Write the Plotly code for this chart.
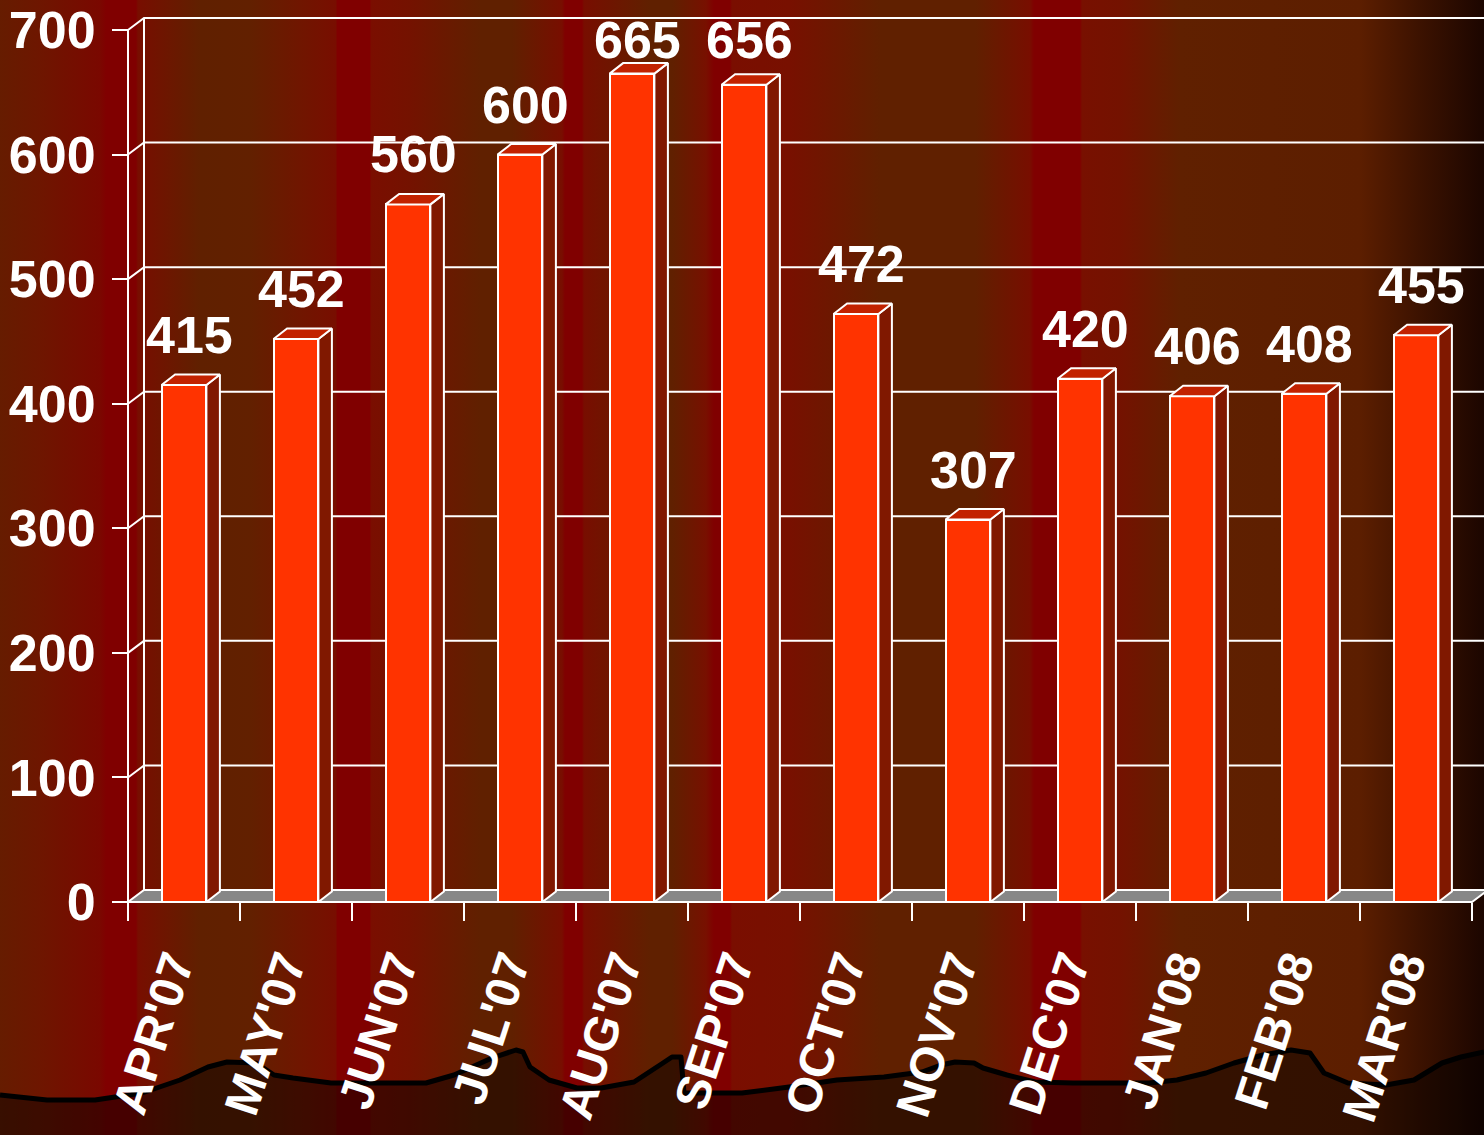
import base64
import plotly.graph_objects as go

# ---------------- data ----------------
months = ["APR'07", "MAY'07", "JUN'07", "JUL'07", "AUG'07", "SEP'07",
          "OCT'07", "NOV'07", "DEC'07", "JAN'08", "FEB'08", "MAR'08"]
values = [415, 452, 560, 600, 665, 656, 472, 307, 420, 406, 408, 455]
y_ticks = [0, 100, 200, 300, 400, 500, 600, 700]

# ---------------- geometry / style ----------------
FONT = "Liberation Sans, Arial, sans-serif"
W, H = 1484, 1135
ML, MR, MT, MB = 106, 0, 10, 225
PW, PH = W - ML - MR, H - MT - MB
PX_X = 112.0                      # px per category
Y0_PX, Y700_PX = 902.0, 30.0
PX_Y = (Y0_PX - Y700_PX) / 700.0  # px per unit
x_lo = -0.5 - (128 - ML) / PX_X
x_hi = -0.5 + (W - MR - 128) / PX_X
y_lo = -((MT + PH) - Y0_PX) / PX_Y
y_hi = (Y0_PX - MT) / PX_Y

wall_dx = 16 / PX_X
wall_dy = 12 / PX_Y
bar_w = 0.40
bar_dx = 13.5 / PX_X
bar_dy = 10.5 / PX_Y
LABEL_CAP = 652   # labels of taller bars are kept inside the chart top

FRONT = "#FF3300"
TOP = "#C22200"
SIDE = "#801800"
FLOOR = "#878787"

# ---------------- background (svg image) ----------------
stops = [(0, "#661c00"), (40, "#6e1600"), (100, "#7a0800"), (106, "#800000"), (136, "#800000"),
         (138, "#780e00"), (200, "#602000"), (250, "#622000"), (300, "#701600"), (336, "#780e00"),
         (337, "#800000"), (370, "#800000"), (371, "#7a0e00"), (410, "#741200"), (480, "#602000"),
         (512, "#602000"), (562, "#780e00"), (565, "#800000"), (582, "#800000"), (584, "#780e00"),
         (650, "#602000"), (672, "#602000"), (706, "#781000"), (714, "#800000"), (730, "#800000"),
         (732, "#7a0e00"), (790, "#781000"), (880, "#602000"), (975, "#602000"), (1030, "#780e00"),
         (1034, "#800000"), (1080, "#800000"), (1082, "#781000"), (1120, "#741200"), (1180, "#602000"),
         (1360, "#5c1e00"), (1420, "#3c1200"), (1484, "#1c0600")]
terrain = [(0, 1095), (47, 1100), (95, 1100), (142, 1093), (180, 1080), (208, 1067), (227, 1062),
           (256, 1063), (274, 1075), (293, 1078), (331, 1083), (426, 1083), (454, 1075), (492, 1058),
           (516, 1050), (523, 1052), (530, 1067), (549, 1080), (577, 1088), (601, 1088), (634, 1082),
           (663, 1063), (672, 1057), (681, 1057), (684, 1093), (742, 1093), (789, 1087), (837, 1080),
           (884, 1077), (922, 1072), (941, 1065), (955, 1062), (974, 1063), (983, 1068), (1007, 1075),
           (1035, 1082), (1073, 1083), (1149, 1083), (1177, 1080), (1206, 1073), (1234, 1063),
           (1263, 1055), (1291, 1050), (1310, 1053), (1324, 1073), (1348, 1083), (1386, 1085),
           (1414, 1080), (1442, 1063), (1461, 1057), (1484, 1052)]
stop_xml = "".join(f"<stop offset='{p / W:.5f}' stop-color='{c}'/>" for p, c in stops)
line_d = "M" + " L".join(f"{x},{y}" for x, y in terrain)
svg = (f"<svg xmlns='http://www.w3.org/2000/svg' width='{W}' height='{H}' viewBox='0 0 {W} {H}' "
       f"preserveAspectRatio='none'><defs><linearGradient id='g' x1='0' y1='0' x2='{W}' y2='0' "
       f"gradientUnits='userSpaceOnUse'>{stop_xml}</linearGradient></defs>"
       f"<rect width='{W}' height='{H}' fill='url(#g)'/>"
       f"<path d='{line_d} L{W + 10},{H + 10} L-10,{H + 10} Z' fill='black' fill-opacity='0.45'/>"
       f"<path d='{line_d}' fill='none' stroke='black' stroke-width='5' stroke-linejoin='round'/></svg>")
svg_uri = "data:image/svg+xml;base64," + base64.b64encode(svg.encode()).decode()

# ---------------- walls / floor shapes ----------------
n = len(months)
shapes = []
WL = dict(color="white", width=2)
floor_pts = [(-0.5, 0), (n - 0.5, 0), (n - 0.5 + wall_dx, wall_dy), (-0.5 + wall_dx, wall_dy)]
shapes.append(dict(type="path", xref="x", yref="y", layer="below", fillcolor=FLOOR, line=WL,
                   path="M" + " L".join(f"{x},{y}" for x, y in floor_pts) + " Z"))
for v in y_ticks[1:]:
    shapes.append(dict(type="path", xref="x", yref="y", layer="below", line=WL,
                       path=f"M-0.5,{v} L{-0.5 + wall_dx},{v + wall_dy} L{x_hi + 1},{v + wall_dy}"))
shapes.append(dict(type="line", xref="x", yref="y", layer="below", line=WL,
                   x0=-0.5 + wall_dx, x1=-0.5 + wall_dx, y0=wall_dy, y1=y_ticks[-1] + wall_dy))
shapes.append(dict(type="line", xref="x", yref="y", layer="below", line=WL,
                   x0=-0.5, x1=-0.5, y0=0, y1=y_ticks[-1]))

fig = go.Figure()
xs = list(range(n))
fig.add_trace(go.Bar(x=xs, y=values, width=bar_w, marker=dict(color=FRONT, line=dict(color="white", width=2)),
                     hoverinfo="skip", showlegend=False))

tx, ty, sx, sy = [], [], [], []
for i, v in enumerate(values):
    l, r = i - bar_w / 2, i + bar_w / 2
    tx += [l, r, r + bar_dx, l + bar_dx, l, None]
    ty += [v, v, v + bar_dy, v + bar_dy, v, None]
    sx += [r, r + bar_dx, r + bar_dx, r, r, None]
    sy += [0, bar_dy, v + bar_dy, v, 0, None]
fig.add_trace(go.Scatter(x=sx, y=sy, mode="lines", fill="toself", fillcolor=SIDE,
                         line=dict(color="white", width=2), hoverinfo="skip", showlegend=False))
fig.add_trace(go.Scatter(x=tx, y=ty, mode="lines", fill="toself", fillcolor=TOP,
                         line=dict(color="white", width=2), hoverinfo="skip", showlegend=False))

annotations = [dict(x=i + 0.05, y=min(v, LABEL_CAP), xref="x", yref="y", text=str(v), showarrow=False,
                    yanchor="bottom", yshift=19,
                    font=dict(family=FONT, size=52, color="white", weight="bold"))
               for i, v in enumerate(values)]

fig.update_layout(
    width=W, height=H, margin=dict(l=ML, r=MR, t=MT, b=MB, autoexpand=False),
    paper_bgcolor="#602000", plot_bgcolor="rgba(0,0,0,0)",
    shapes=shapes, annotations=annotations, bargap=0, showlegend=False,
    images=[dict(source=svg_uri, xref="paper", yref="paper", x=-ML / PW, y=1 + MT / PH,
                 sizex=W / PW, sizey=H / PH, xanchor="left", yanchor="top",
                 sizing="stretch", layer="below")],
    xaxis=dict(range=[x_lo, x_hi], tickmode="array", tickvals=xs, ticktext=months, ticks="",
               tickangle=-72, tickfont=dict(family=FONT, size=48, color="white", weight="bold"),
               showgrid=False, zeroline=False, showline=False, anchor="free",
               position=(MT + PH - Y0_PX) / PH, automargin=False, ticklabelstandoff=25,
               ticklabelshift=-12,
               minor=dict(tickmode="array", tickvals=[i - 0.5 for i in range(n + 1)], ticks="outside",
                          ticklen=18, tickwidth=2, tickcolor="white", showgrid=False)),
    yaxis=dict(range=[y_lo, y_hi], tickmode="array", tickvals=y_ticks, ticks="outside", ticklen=16,
               tickwidth=2, tickcolor="white",
               tickfont=dict(family=FONT, size=52, color="white", weight="bold"),
               showgrid=False, zeroline=False, showline=False, anchor="free",
               position=(128 - ML) / PW, automargin=False, ticklabelstandoff=6),
)

fig.write_html("out.html", config={"displayModeBar": False},
               post_script="document.body.style.margin='0';document.body.style.overflow='hidden';")
